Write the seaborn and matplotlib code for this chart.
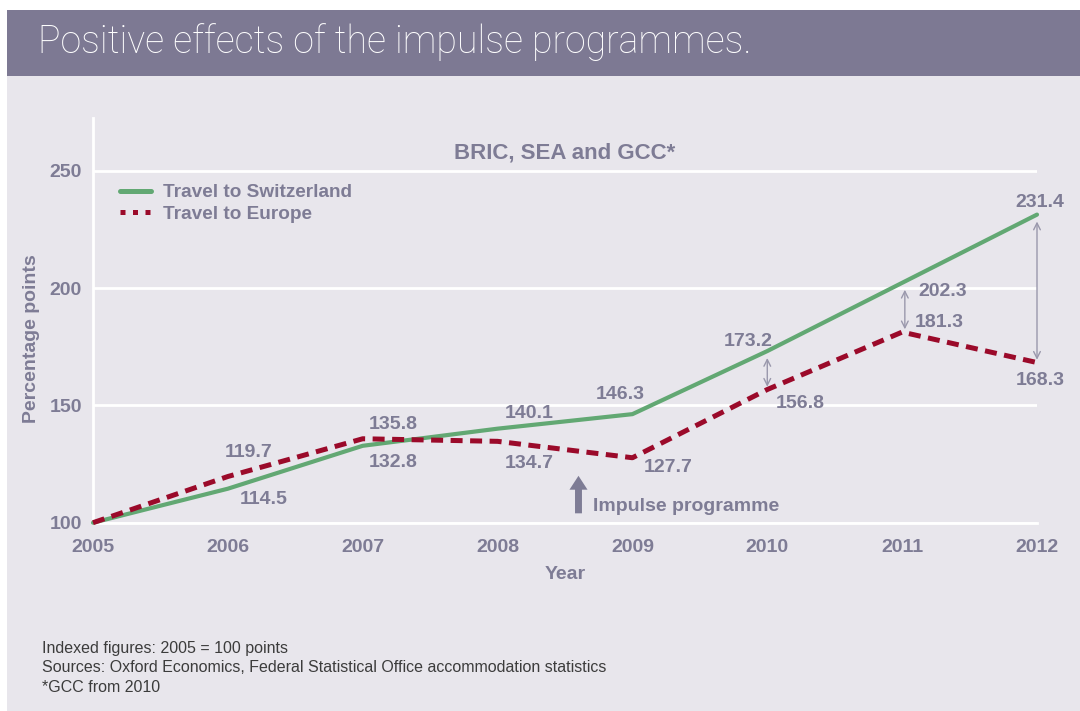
import matplotlib
matplotlib.use("Agg")
import matplotlib.pyplot as plt
import seaborn as sns
from matplotlib.patches import Rectangle
from matplotlib.lines import Line2D

# data
years = [2005, 2006, 2007, 2008, 2009, 2010, 2011, 2012]
switzerland = [100, 114.5, 132.8, 140.1, 146.3, 173.2, 202.3, 231.4]
europe = [100, 119.7, 135.8, 134.7, 127.7, 156.8, 181.3, 168.3]
y_ticks = [100, 150, 200, 250]
gap_years = [2010, 2011, 2012]
impulse_year = 2008.6

footnotes = [
    "Indexed figures: 2005 = 100 points",
    "Sources: Oxford Economics, Federal Statistical Office accommodation statistics",
    "*GCC from 2010",
]

# label offsets in points (style, not data)
swiss_offsets = [None, (26, -8), (22, -12), (23, 11), (-9, 14), (-14, 7), (29, -6), (2, 9)]
europe_offsets = [None, (15, 17), (22, 10), (23, -16), (26, -7), (24, -10), (27, 7), (2, -13)]

BG = "#E8E6EC"
HEADER = "#7D7993"
GRAY = "#7E7C95"
GREEN = "#62A873"
RED = "#9B0A2A"
FS = 14

sns.set_theme(style="white")
plt.rcParams["font.family"] = ["Liberation Sans", "DejaVu Sans"]

W, H = 1080, 711
fig = plt.figure(figsize=(W / 100, H / 100), dpi=100, facecolor="white")

# panel background and header band
fig.patches.append(Rectangle((7 / W, 0), 1, 1 - 76 / H, transform=fig.transFigure,
                             facecolor=BG, edgecolor="none", zorder=-2))
fig.patches.append(Rectangle((7 / W, 1 - 76 / H), 1, 66 / H, transform=fig.transFigure,
                             facecolor=HEADER, edgecolor="none", zorder=-2))
fig.text(38 / W, 1 - 53 / H, "Positive effects of the impulse programmes.",
         color="white", fontsize=27, family=["Roboto", "DejaVu Sans"], fontweight="light",
         va="baseline", ha="left")

ax = fig.add_axes([93 / W, 1 - 522.7 / H, 944 / W, 404.7 / H])
ax.set_facecolor("none")
ax.set_xlim(2005, 2012)
ax.set_ylim(100, 272.6)

sns.lineplot(x=years, y=switzerland, color=GREEN, lw=3, ax=ax, clip_on=False, zorder=3)
sns.lineplot(x=years, y=europe, color=RED, lw=3.6, linestyle=(0, (2.4, 1.5)), ax=ax,
             clip_on=False, zorder=3)

# axes styling
ax.set_yticks(y_ticks)
ax.set_xticks(years)
ax.yaxis.grid(True, color="white", lw=2)
ax.xaxis.grid(False)
ax.set_axisbelow(True)
for side in ["top", "right"]:
    ax.spines[side].set_visible(False)
for side in ["left", "bottom"]:
    ax.spines[side].set_color("white")
    ax.spines[side].set_linewidth(2)
ax.tick_params(axis="x", colors="white", length=7, width=2, pad=5, labelcolor=GRAY, labelsize=FS)
ax.tick_params(axis="y", length=0, pad=8, labelcolor=GRAY, labelsize=FS)
for lab in ax.get_xticklabels() + ax.get_yticklabels():
    lab.set_fontweight("bold")

ax.set_xlabel("Year", color=GRAY, fontsize=FS, fontweight="bold")
ax.xaxis.set_label_coords(0.5, -0.108)
ax.set_ylabel("Percentage points", color=GRAY, fontsize=FS, fontweight="bold")
ax.yaxis.set_label_coords(-0.056, 0.455)

ax.text(0.4995, 0.913, "BRIC, SEA and GCC*", transform=ax.transAxes, color=GRAY,
        fontsize=16, fontweight="bold", ha="center", va="center")

# legend
handles = [Line2D([], [], color=GREEN, lw=3.6),
           Line2D([], [], color=RED, lw=3.6, linestyle=(0, (1, 1.5)))]
ax.legend(handles, ["Travel to Switzerland", "Travel to Europe"], loc="upper left",
          bbox_to_anchor=(0.0286, 0.837), frameon=False, borderpad=0, borderaxespad=0,
          handlelength=1.63, handletextpad=0.63, labelspacing=0.22,
          prop={"weight": "bold", "size": 13.7}, labelcolor=GRAY)

# value labels
for series, offsets in [(switzerland, swiss_offsets), (europe, europe_offsets)]:
    for yr, v, off in zip(years, series, offsets):
        if off:
            ax.annotate(f"{v:.1f}", (yr, v), xytext=off, textcoords="offset points",
                        color=GRAY, fontsize=FS, fontweight="bold", ha="center",
                        va="center", annotation_clip=False)

# gap arrows between the two series
for yr in gap_years:
    i = years.index(yr)
    xa = yr + (0.02 if yr == 2011 else 0)
    ax.annotate("", xy=(xa, europe[i]), xytext=(xa, switzerland[i]),
                arrowprops=dict(arrowstyle="<->", color="#9A98AC", lw=1, shrinkA=5, shrinkB=2),
                annotation_clip=False)

# impulse programme marker
ax.annotate("", xy=(impulse_year, 120), xytext=(impulse_year, 104),
            arrowprops=dict(facecolor=GRAY, edgecolor="none", width=5, headwidth=13,
                            headlength=10, shrink=0))
ax.text(impulse_year + 0.11, 106.7, "Impulse programme", color=GRAY, fontsize=FS,
        fontweight="bold", ha="left", va="center")

for k, line in enumerate(footnotes):
    fig.text(42 / W, 1 - (648 + 20 * k) / H, line, color="#3c3c3c", fontsize=11.5,
             ha="left", va="center")

fig.savefig("out.png", dpi=100, facecolor=fig.get_facecolor())
